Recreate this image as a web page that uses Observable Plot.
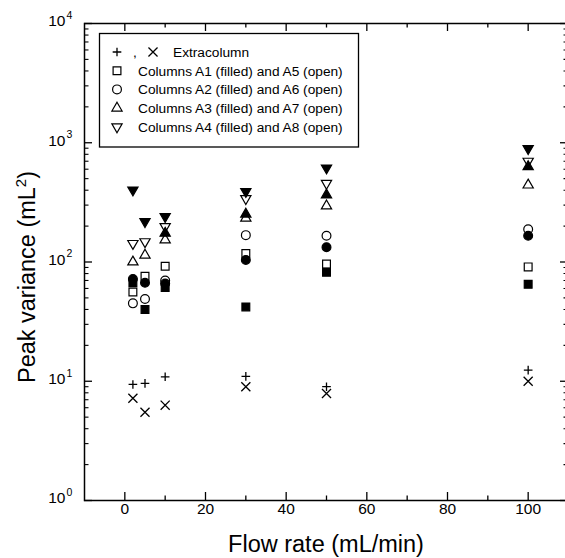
<!DOCTYPE html>
<html>
<head>
<meta charset="utf-8">
<script src="https://cdn.jsdelivr.net/npm/d3@7"></script>
<script src="https://cdn.jsdelivr.net/npm/@observablehq/plot@0.6"></script>
<style>
  html, body { margin: 0; padding: 0; background: white; overflow: hidden; }
  #chart svg { display: block; overflow: hidden; }
</style>
</head>
<body>
<div id="chart"></div>
<script>
// ---- data ----
const flow = [2, 5, 10, 30, 50, 100];                 // mL/min
const extraPlus  = [9.4, 9.6, 10.9, 11.0, 9.0, 12.4];  // extracolumn (+)
const extraTimes = [7.2, 5.5, 6.3, 9.0, 7.9, 10.0];    // extracolumn (x)
const colA1 = [67, 40, 61, 42, 82, 65];      // filled square
const colA5 = [56, 76, 92, 118, 96, 91];     // open square
const colA2 = [72, 67, 66, 104, 133, 166];   // filled circle
const colA6 = [45, 49, 70, 168, 166, 188];   // open circle
const colA3 = [null, null, 174, 252, 365, 630]; // filled up-triangle
const colA7 = [100, 114, 153, 233, 295, 442];   // open up-triangle
const colA4 = [402, 218, 240, 390, 614, 893];   // filled down-triangle
const colA8 = [143, 148, 198, 340, 457, 700];   // open down-triangle

const xMajor = [0, 20, 40, 60, 80, 100];
const xMinor = [10, 30, 50, 70, 90];
const yMajor = [1, 10, 100, 1000, 10000];
const yExp = ["0", "1", "2", "3", "4"];
const yMinor = [1, 10, 100, 1000].flatMap(d => [2,3,4,5,6,7,8,9].map(k => k * d));

const legendLabels = [
  "Extracolumn",
  "Columns A1 (filled) and A5 (open)",
  "Columns A2 (filled) and A6 (open)",
  "Columns A3 (filled) and A7 (open)",
  "Columns A4 (filled) and A8 (open)"
];

// ---- symbols ----
const sqrt3 = Math.sqrt(3);
const triangleDown = {
  draw(context, size) {
    const y = -Math.sqrt(size / (sqrt3 * 3));
    context.moveTo(0, -y * 2);
    context.lineTo(-sqrt3 * y, y);
    context.lineTo(sqrt3 * y, y);
    context.closePath();
  }
};

const series = [
  {values: colA5, symbol: "square",    filled: false, r: 4.4},
  {values: colA6, symbol: "circle",    filled: false, r: 4.4},
  {values: colA7, symbol: "triangle",  filled: false, r: 3.8},
  {values: colA8, symbol: triangleDown, filled: false, r: 3.8},
  {values: colA1, symbol: "square",    filled: true,  r: 4.4},
  {values: colA2, symbol: "circle",    filled: true,  r: 4.4},
  {values: colA3, symbol: "triangle",  filled: true,  r: 3.8},
  {values: colA4, symbol: triangleDown, filled: true,  r: 3.8}
];
const rowsOf = vals => flow.map((f, i) => ({flow: f, v: vals[i]})).filter(d => d.v != null);

const W = 565, H = 558;
const mL = 84, mR = -3, mT = 23, mB = 58;
const fw = W - mR - mL, fh = H - mT - mB;
const font = "'Liberation Sans', Arial, Helvetica, sans-serif";

const dotMarks = series.map(s => Plot.dot(rowsOf(s.values), {
  x: "flow", y: "v", symbol: s.symbol, r: s.r,
  fill: s.filled ? "black" : "none", stroke: "black", strokeWidth: 1.2
}));

const chart = Plot.plot({
  width: W, height: H,
  marginLeft: mL, marginRight: mR, marginTop: mT, marginBottom: mB,
  x: {domain: [-10, 110], range: [mL, W - mR], axis: null},
  y: {type: "log", domain: [1, 10000], range: [H - mB, mT], axis: null},
  style: {fontFamily: font, background: "white", color: "black", overflow: "hidden"},
  marks: [
    // ticks (inward, all four sides)
    Plot.tickX(xMajor, {x: d => d, insetTop: fh - 8, stroke: "black", strokeWidth: 1.3}),
    Plot.tickX(xMajor, {x: d => d, insetBottom: fh - 8, stroke: "black", strokeWidth: 1.3}),
    Plot.tickX(xMinor, {x: d => d, insetTop: fh - 4.5, stroke: "black", strokeWidth: 1.3}),
    Plot.tickX(xMinor, {x: d => d, insetBottom: fh - 4.5, stroke: "black", strokeWidth: 1.3}),
    Plot.tickY(yMajor, {y: d => d, insetRight: fw - 8, stroke: "black", strokeWidth: 1.3}),
    Plot.tickY(yMajor, {y: d => d, insetLeft: fw - 8, stroke: "black", strokeWidth: 1.3}),
    Plot.tickY(yMinor, {y: d => d, insetRight: fw - 4.5, stroke: "black", strokeWidth: 1.1}),
    Plot.tickY(yMinor, {y: d => d, insetLeft: fw - 4.5, stroke: "black", strokeWidth: 1.1}),
    Plot.frame({stroke: "black", strokeWidth: 1.5}),
    // tick labels
    Plot.text(xMajor, {x: d => d, text: d => String(d), frameAnchor: "bottom", dy: 13, fontSize: 15.5, fill: "black"}),
    Plot.text(yMajor, {y: d => d, text: () => "10", frameAnchor: "left", dx: -19, dy: -2, textAnchor: "end", fontSize: 15.5, fill: "black"}),
    Plot.text(yMajor, {y: d => d, text: (d, i) => yExp[i], frameAnchor: "left", dx: -18, dy: -8, textAnchor: "start", fontSize: 10.5, fill: "black"}),
    // data
    Plot.dot(rowsOf(extraPlus),  {x: "flow", y: "v", symbol: "plus",  r: 2.9, stroke: "black", strokeWidth: 1.3}),
    Plot.dot(rowsOf(extraTimes), {x: "flow", y: "v", symbol: "times", r: 4.2, stroke: "black", strokeWidth: 1.3}),
    ...dotMarks
  ]
});
document.getElementById("chart").appendChild(chart);

// ---- axis titles & legend (drawn into the same SVG) ----
const svg = d3.select(chart);
svg.append("text")
  .attr("x", (mL + W - mR) / 2).attr("y", 552)
  .attr("text-anchor", "middle").attr("font-family", font).attr("font-size", 23.5).attr("fill", "black")
  .text("Flow rate (mL/min)");
const yt = svg.append("text")
  .attr("transform", "translate(35,277) rotate(-90)")
  .attr("text-anchor", "middle").attr("font-family", font).attr("font-size", 23.5).attr("fill", "black");
yt.append("tspan").text("Peak variance (mL");
yt.append("tspan").attr("font-size", 15).attr("dy", -9).text("2");
yt.append("tspan").attr("dy", 9).text(")");

const lg = svg.append("g").attr("text-anchor", "start");
lg.append("rect").attr("x", 99.5).attr("y", 33.5).attr("width", 259).attr("height", 113.5)
  .attr("fill", "white").attr("stroke", "black").attr("stroke-width", 1.3);
const rowY = [52, 70.7, 89.4, 108.1, 126.8];
const sym = (type, r) => d3.symbol().type(type).size(Math.PI * r * r)();
// row 0: + , x
lg.append("path").attr("transform", `translate(117,${rowY[0]})`).attr("d", sym(d3.symbolPlus, 2.9))
  .attr("fill", "none").attr("stroke", "black").attr("stroke-width", 1.3);
lg.append("text").attr("x", 135).attr("y", rowY[0] + 5).attr("text-anchor", "middle")
  .attr("font-family", font).attr("font-size", 13.7).attr("fill", "black").text(",");
lg.append("path").attr("transform", `translate(153,${rowY[0]})`).attr("d", sym(d3.symbolTimes, 4.2))
  .attr("fill", "none").attr("stroke", "black").attr("stroke-width", 1.3);
const legendSyms = [[d3.symbolSquare, 4.4], [d3.symbolCircle, 4.4], [d3.symbolTriangle, 3.8], [triangleDown, 3.8]];
legendSyms.forEach(([t, r], i) => {
  lg.append("path").attr("transform", `translate(117,${rowY[i + 1]})`).attr("d", sym(t, r))
    .attr("fill", "none").attr("stroke", "black").attr("stroke-width", 1.2);
});
legendLabels.forEach((t, i) => {
  lg.append("text").attr("x", i === 0 ? 173 : 138).attr("y", rowY[i] + 5)
    .attr("text-anchor", "start")
    .attr("font-family", font).attr("font-size", 13.7).attr("fill", "black").text(t);
});
</script>
</body>
</html>
